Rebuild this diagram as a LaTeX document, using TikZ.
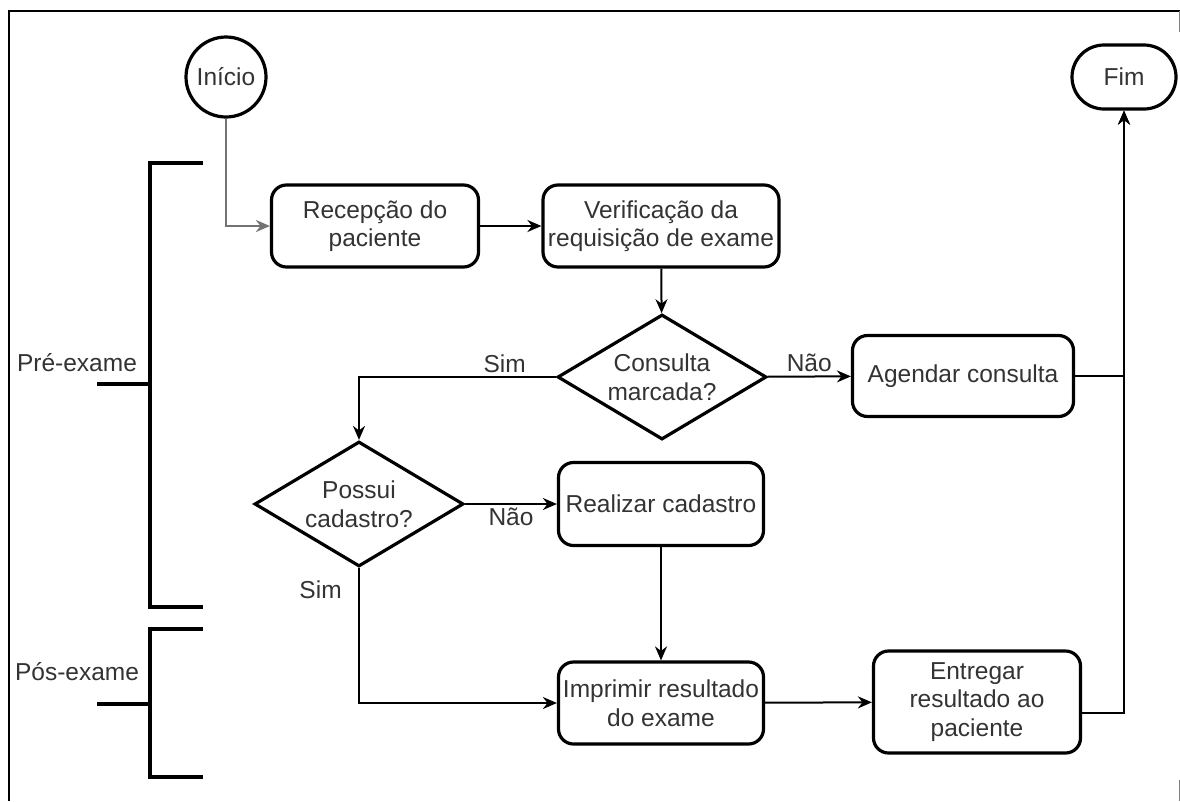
\documentclass[tikz,border=0pt]{standalone}
\usepackage[svgnames]{xcolor}
\usepackage{fontspec}
\setmainfont{Liberation Sans}
\usetikzlibrary{
  arrows.meta,
  shapes.geometric
}
\colorlet{ink}{black!80}
\colorlet{feed}{black!55}

\begin{document}
\begin{tikzpicture}[
  x=1pt, y=-1pt,
  every node/.style={font=\fontsize{24.5}{28.5}\selectfont, text=ink},
  proc/.style={draw, line width=3.2pt, rounded corners=15pt, align=center, inner sep=2pt},
  decide/.style={draw, diamond, aspect=1.66, line width=3.2pt, align=center, inner sep=0pt,
    minimum width=209pt, minimum height=125pt},
  flow/.style={line width=2pt, -{Stealth[length=14pt,width=12pt]}},
  brace/.style={line width=3.6pt},
]
\useasboundingbox (0,0) rectangle (1180,801);
% frame of the screenshot
\draw[line width=1.5pt] (9,801) -- (9,11) -- (1180,11);
\draw[line width=0.8pt, black!50] (1179,11) -- (1179,32);
\draw[line width=0.8pt, black!50] (1179,780) -- (1179,801);

% start / end
\node[draw, circle, line width=3.2pt, minimum size=80pt, inner sep=1pt] (inicio) at (226,77) {Início};
\node[draw, line width=3.2pt, rounded corners=32pt, minimum width=104pt, minimum height=64pt] (fim) at (1124,77) {Fim};

% steps
\node[proc, minimum width=207pt, minimum height=82pt] (recepcao) at (375,226) {Recepção do\\paciente};
\node[proc, minimum width=236pt, minimum height=82pt] (verif) at (661,226) {Verificação da\\requisição de exame};
\node[decide] (consulta) at (662,377) {Consulta\\marcada?};
\node[proc, minimum width=221pt, minimum height=81pt] (agendar) at (963,376) {Agendar consulta};
\node[decide] (possui) at (359,504) {Possui\\cadastro?};
\node[proc, minimum width=205pt, minimum height=83pt] (realizar) at (661,504) {Realizar cadastro};
\node[proc, minimum width=205pt, minimum height=82pt] (imprimir) at (661,703) {Imprimir resultado\\do exame};
\node[proc, minimum width=207pt, minimum height=102pt] (entregar) at (977,702) {Entregar\\resultado ao\\paciente};

% connectors
\draw[flow, draw=feed] (inicio.south) |- (recepcao.west);
\draw[flow] (recepcao) -- (verif);
\draw[flow] (verif) -- (consulta);
\draw[flow] (consulta.west) -| node[pos=0.13, above] (simA) {Sim} (possui.north);
\draw[flow] (consulta) -- node[above] (naoA) {Não} (agendar);
\draw[flow] (possui) -- node[below] (naoB) {Não} (realizar);
\draw[flow] (possui.south) |- node[pos=0.08, left=13pt] (simB) {Sim} (imprimir.west);
\draw[flow] (realizar) -- (imprimir);
\draw[flow] (imprimir) -- (entregar);
\draw[flow] (agendar.east) -| (fim.south);
\draw[flow] ([yshift=-11pt]entregar.east) -| (fim.south);

% phase brackets
\foreach \nm/\ya/\yb/\yc/\ly/\lbl in {pre/163/607/384/363/Pré-exame, pos/629/777/704/672/Pós-exame}
{
  \draw[brace] (203,\ya) -- (150,\ya) -- (150,\yb) -- (203,\yb);
  \draw[brace] (97,\yc) -- (150,\yc);
  \node (\nm) at (77,\ly) {\lbl};
}
\end{tikzpicture}
\end{document}
